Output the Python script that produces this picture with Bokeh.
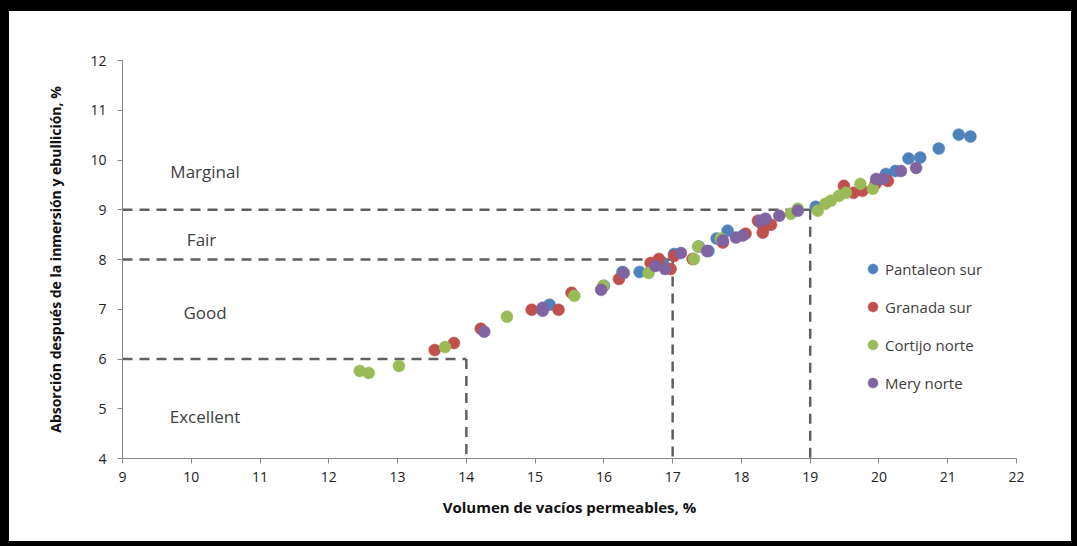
from bokeh.plotting import figure
from bokeh.models import Range1d, FixedTicker, Legend, LegendItem
from bokeh.core.properties import value
from bokeh.embed import file_html
from bokeh.resources import INLINE

# ---------------- data ----------------
series_names = ["Pantaleon sur", "Granada sur", "Cortijo norte", "Mery norte"]
series_colors = ["#4F81BD", "#C0504D", "#9BBB59", "#8064A2"]

pantaleon_x = [15.21, 16.00, 16.27, 16.52, 16.86, 17.02, 17.38, 17.52, 17.64, 17.80, 18.28,
               19.08, 20.10, 20.24, 20.43, 20.60, 20.87, 21.16, 21.33]
pantaleon_y = [7.09, 7.47, 7.75, 7.75, 7.93, 8.11, 8.26, 8.17, 8.42, 8.58, 8.74,
               9.06, 9.72, 9.78, 10.03, 10.05, 10.23, 10.51, 10.47]

granada_x = [13.54, 13.82, 14.21, 14.95, 15.34, 15.53, 16.22, 16.68, 16.80, 16.97, 17.02,
             17.29, 17.73, 18.06, 18.24, 18.33, 18.31, 18.43, 19.49, 19.63, 19.76, 19.95, 20.13]
granada_y = [6.18, 6.32, 6.61, 6.99, 6.99, 7.33, 7.61, 7.93, 8.01, 7.81, 8.07,
             8.01, 8.34, 8.52, 8.78, 8.64, 8.54, 8.70, 9.48, 9.34, 9.38, 9.52, 9.58]

cortijo_x = [12.45, 12.58, 13.02, 13.69, 14.59, 15.57, 15.99, 16.65, 17.31, 17.37, 17.70,
             18.72, 18.82, 19.11, 19.22, 19.30, 19.42, 19.52, 19.73, 19.91]
cortijo_y = [5.76, 5.72, 5.86, 6.24, 6.85, 7.27, 7.47, 7.73, 8.01, 8.26, 8.42,
             8.92, 9.02, 8.98, 9.12, 9.18, 9.28, 9.34, 9.52, 9.42]

mery_x = [14.26, 15.11, 15.11, 15.96, 16.29, 16.75, 16.89, 17.12, 17.50, 17.73, 17.92,
          18.02, 18.28, 18.35, 18.55, 18.82, 19.96, 20.06, 20.32, 20.54]
mery_y = [6.55, 7.03, 6.97, 7.39, 7.73, 7.87, 7.81, 8.13, 8.17, 8.38, 8.44,
          8.48, 8.78, 8.82, 8.88, 8.98, 9.62, 9.62, 9.78, 9.84]

series_x = [pantaleon_x, granada_x, cortijo_x, mery_x]
series_y = [pantaleon_y, granada_y, cortijo_y, mery_y]

# class limits (volumen de vacíos / absorción)
limit_x = [14, 17, 19]
limit_y = [6, 8, 9]
class_names = ["Excellent", "Good", "Fair", "Marginal"]

x_ticks = list(range(9, 23))
y_ticks = list(range(4, 13))

# ---------------- layout constants ----------------
label_x = [10.2, 10.2, 10.15, 10.2]
label_y = [4.85, 6.93, 8.40, 9.76]

TXT = "#404040"
FONT = "Open Sans"

p = figure(width=1077, height=546, output_backend="svg", toolbar_location=None,
           x_range=Range1d(x_ticks[0], x_ticks[-1]), y_range=Range1d(y_ticks[0], y_ticks[-1]),
           min_border_left=113, min_border_right=70, min_border_top=49, min_border_bottom=99,
           background_fill_color="white", border_fill_color="white")
p.styles = {"border-top": "11px solid black", "border-left": "9px solid black",
            "border-right": "6px solid black", "border-bottom": "5px solid black"}
p.outline_line_color = None
p.xgrid.visible = False
p.ygrid.visible = False

for ax in (p.xaxis[0], p.yaxis[0]):
    ax.axis_line_color = "#868686"
    ax.axis_line_width = 1
    ax.major_tick_line_color = "#868686"
    ax.major_tick_in = 0
    ax.major_tick_out = 5
    ax.minor_tick_line_color = None
    ax.major_label_text_font = FONT
    ax.major_label_text_font_size = "14px"
    ax.major_label_text_color = "#222222"
    ax.axis_label_text_font = FONT
    ax.axis_label_text_font_style = "bold"
    ax.axis_label_text_color = "#111111"

p.xaxis.axis_label_text_font_size = "15px"
p.yaxis.axis_label_text_font_size = "14px"
p.xaxis.ticker = FixedTicker(ticks=x_ticks)
p.yaxis.ticker = FixedTicker(ticks=y_ticks)
p.xaxis.axis_label = "Volumen de vacíos permeables, %"
p.yaxis.axis_label = "Absorción después de la inmersión y ebullición, %"
p.xaxis.major_label_standoff = 8
p.xaxis.axis_label_standoff = 12
p.yaxis.major_label_standoff = 11
p.yaxis.axis_label_standoff = 22

# dashed class limits
n = len(limit_x)
p.segment(x0=[x_ticks[0]] * n, y0=limit_y, x1=limit_x, y1=limit_y,
          line_color="#5f5f5f", line_width=2.5, line_dash="10 7")
p.segment(x0=limit_x, y0=limit_y, x1=limit_x, y1=[y_ticks[0]] * n,
          line_color="#5f5f5f", line_width=2.5, line_dash="10 7")

# class labels
p.text(x=label_x, y=label_y, text=class_names, text_font=value(FONT),
       text_font_size="17px", text_color=TXT, text_align="center", text_baseline="middle")

items = []
for name, color, xs, ys in zip(series_names, series_colors, series_x, series_y):
    r = p.scatter(x=xs, y=ys, size=12, fill_color=color, line_color=color, line_width=0.5)
    items.append(LegendItem(label=name, renderers=[r]))

legend = Legend(items=items, location=(738, 63), glyph_width=25, glyph_height=25,
                label_standoff=0, spacing=13, padding=10, margin=0,
                label_text_font=FONT, label_text_font_size="15px", label_text_color=TXT,
                border_line_color=None, background_fill_alpha=0)
p.add_layout(legend, "center")

open("out.html", "w").write(file_html(p, INLINE))
